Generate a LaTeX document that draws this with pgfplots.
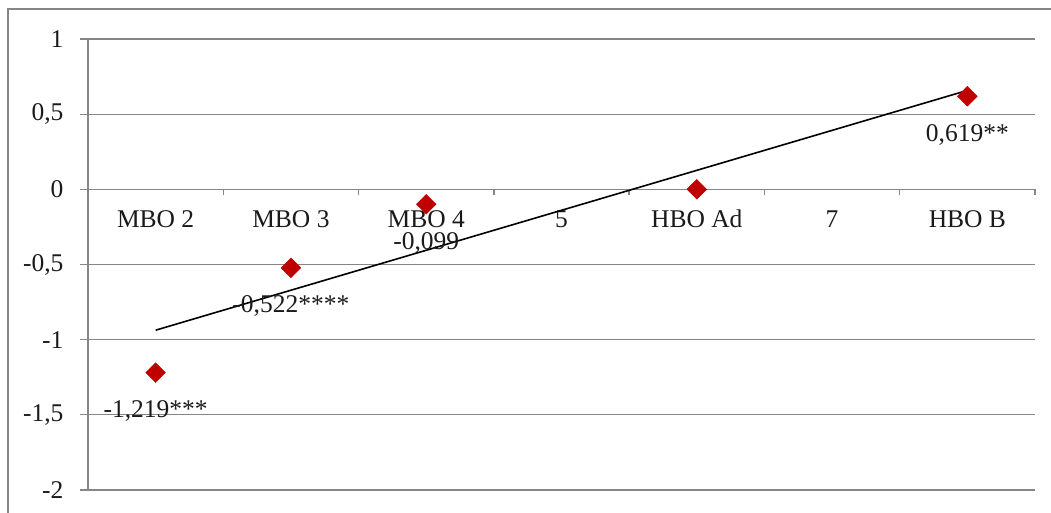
\documentclass[border=0pt]{standalone}
\usepackage{pgfplots}
\pgfplotsset{compat=1.18}
\usepackage{fontspec}
\setmainfont{Liberation Serif}
\definecolor{gridgray}{HTML}{868686}
\definecolor{ptred}{HTML}{C00000}
\definecolor{txt}{HTML}{1A1A1A}
\begin{document}
\begin{tikzpicture}
\useasboundingbox (0,0) rectangle (1051bp,513bp);
\draw[gridgray, line width=1.3bp] (8bp,-10bp) -- (8bp,504bp) -- (1070bp,504bp);
\begin{axis}[
  at={(88bp,23bp)}, anchor=south west,
  scale only axis, width=947bp, height=451bp,
  xmin=0.5, xmax=7.5, ymin=-2, ymax=1,
  axis x line=middle, axis y line=left,
  axis line style={-, draw=gridgray, line width=1.3bp},
  tick align=outside,
  major tick length=8bp, minor tick length=6bp,
  xtick={1,...,7},
  xticklabels={MBO 2, MBO 3, MBO 4, 5, HBO Ad, 7, HBO B},
  major x tick style={draw=none},
  minor xtick={0.5,1.5,...,7.5},
  minor x tick style={draw=gridgray, line width=1.3bp},
  ytick={-2,-1.5,...,1},
  yticklabels={-2,{-1,5},-1,{-0,5},0,{0,5},1},
  y tick style={draw=gridgray, line width=1.3bp},
  ymajorgrids,
  grid style={draw=gridgray, line width=1.3bp},
  tick label style={font=\fontsize{25.5bp}{30bp}\selectfont, text=txt},
  xticklabel style={anchor=base, yshift=-30bp},
  yticklabel style={anchor=east, xshift=-13bp},
  clip=false,
]
\addplot[black, line width=1.6bp] coordinates {(1,-0.937) (7,0.658)};
\addplot[only marks, mark=square*, mark size=7bp, mark options={rotate=45, fill=ptred, draw=ptred},
  nodes near coords, point meta=explicit symbolic,
  every node near coord/.append style={anchor=base, yshift=-45bp, font=\fontsize{25.5bp}{30bp}\selectfont, text=txt}]
  coordinates {
    (1,-1.219) [{-1,219***}]
    (2,-0.522) [{-0,522****}]
    (3,-0.099) [{-0,099}]
    (7,0.619) [{0,619**}]
  };
\addplot[only marks, mark=square*, mark size=7bp, mark options={rotate=45, fill=ptred, draw=ptred}]
  coordinates {(5,0)};
\end{axis}
\end{tikzpicture}
\end{document}
